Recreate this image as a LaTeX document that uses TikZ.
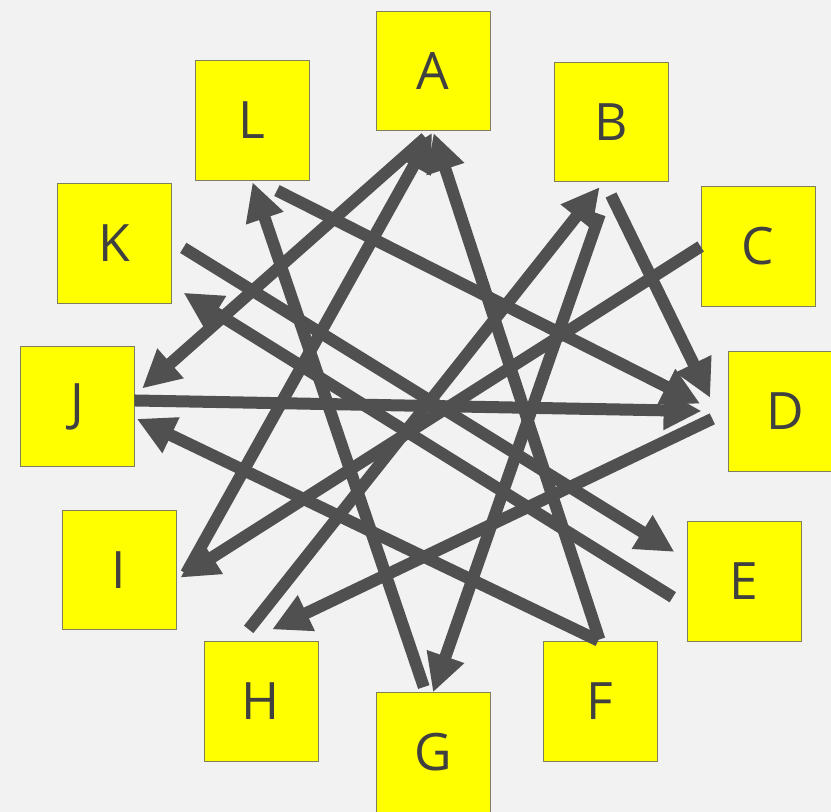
\documentclass[tikz,border=0pt]{standalone}
\usepackage{fontspec}
\setmainfont{Open Sans}
\usetikzlibrary{arrows.meta}
\definecolor{PageBack}{HTML}{F2F2F2}
\definecolor{BoxFill}{HTML}{FFFF00}
\definecolor{BoxLine}{HTML}{7F7F5F}
\definecolor{LinkGray}{HTML}{505050}
\definecolor{LabelGray}{HTML}{404040}
\tikzset{>={Triangle[length=1.14cm,width=1.11cm]},box/.style={draw=BoxLine,line width=0.6pt,
 fill=BoxFill,minimum width=3.42cm,minimum height=3.585cm,inner sep=0pt,text=LabelGray,
 font=\fontsize{44}{50}\selectfont},link/.style={draw=LinkGray,line width=0.36cm,->}}
\begin{document}
\begin{tikzpicture}[x=0.03cm,y=-0.03cm]
\fill[PageBack] (0,0) rectangle (831,812);
\useasboundingbox (0,0) rectangle (831,812);
\clip (0,0) rectangle (831,812);
\node[box] (A) at (433,71) {A};
\node[box] (B) at (611,122) {B};
\node[box] (C) at (758,246.5) {C};
\node[box] (D) at (785,411.5) {D};
\node[box] (E) at (744,581.5) {E};
\node[box] (F) at (600,701.5) {F};
\node[box] (G) at (433,752.5) {G};
\node[box] (H) at (261,701.5) {H};
\node[box] (I) at (119,570) {I};
\node[box] (J) at (77,406.5) {J};
\node[box] (K) at (114,243.5) {K};
\node[box] (L) at (252,120.5) {L};
\draw[link,shorten >=0.78cm] (J.6) -- (D.180);
\draw[link,shorten <=0.51cm,shorten >=0.83cm] (D.west) -- (H.103);
\draw[link,shorten <=0.66cm,shorten >=0.92cm] (L.275) -- (D.186);
\draw[link,shorten <=0.43cm,shorten >=1.19cm] (B.264) -- (D.201);
\draw[link,shorten <=1.02cm] (B.270) -- (G.90);
\draw[link,shorten <=0.46cm,shorten >=0.19cm] (H.110) -- (B.263);
\draw[link,shorten >=0.14cm] (C.180) -- (I.350);
\draw[link,shorten <=0.6cm,shorten >=0.06cm] (I.340) -- (A.270);
\draw[link,shorten <=0.06cm,shorten >=0.06cm] (F.90) -- (A.270);
\draw[link,shorten <=0.3cm,shorten >=0.31cm] (A.270) -- (J.11);
\draw[link,shorten <=0.06cm,shorten >=0.08cm] (F.90) -- (J.349);
\draw[link,shorten <=0.17cm,shorten >=0.05cm] (G.97) -- (L.270);
\draw[link,shorten <=0.42cm,shorten >=0.43cm] (K.3) -- (E.159);
\draw[link,shorten <=0.49cm,shorten >=0.43cm] (E.203) -- (K.324);
\end{tikzpicture}
\end{document}
